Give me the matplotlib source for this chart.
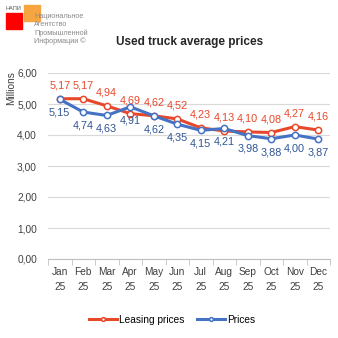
import matplotlib.pyplot as plt
import matplotlib.patches as patches

months = ["Jan\n25", "Feb\n25", "Mar\n25", "Apr\n25", "May\n25", "Jun\n25",
          "Jul\n25", "Aug\n25", "Sep\n25", "Oct\n25", "Nov\n25", "Dec\n25"]
leasing = [5.17, 5.17, 4.94, 4.69, 4.62, 4.52, 4.23, 4.13, 4.10, 4.08, 4.27, 4.16]
prices = [5.15, 4.74, 4.63, 4.91, 4.62, 4.35, 4.15, 4.21, 3.98, 3.88, 4.00, 3.87]
yticks = [0, 1, 2, 3, 4, 5, 6]

RED = "#E8482A"
BLUE = "#4472C4"
RED_TXT = "#E8482A"
BLUE_TXT = "#2F5597"

plt.rcParams['font.family'] = ['Liberation Sans', 'DejaVu Sans']

fig = plt.figure(figsize=(3.38, 3.38), dpi=100)
W = H = 338.0
ax = fig.add_axes([48 / W, (H - 259) / H, 282 / W, 186 / H])

x = list(range(len(months)))
ax.plot(x, leasing, color=RED, lw=2.2, marker='o', ms=4.5, mfc='white',
        mec=RED, mew=1.1, label='Leasing prices', zorder=3)
ax.plot(x, prices, color=BLUE, lw=2.2, marker='o', ms=4.5, mfc='white',
        mec=BLUE, mew=1.1, label='Prices', zorder=4)

for i, v in enumerate(leasing):
    ax.annotate(f"{v:.2f}".replace('.', ','), (i, v), xytext=(0, 6),
                textcoords='offset points', ha='center', va='bottom',
                color=RED_TXT, fontsize=7.8)
for i, v in enumerate(prices):
    ax.annotate(f"{v:.2f}".replace('.', ','), (i, v), xytext=(0, -6),
                textcoords='offset points', ha='center', va='top',
                color=BLUE_TXT, fontsize=7.8)

ax.set_xlim(-0.5, len(months) - 0.5)
ax.set_ylim(0, 6)
ax.set_yticks(yticks)
ax.set_yticklabels([f"{t:.2f}".replace('.', ',') for t in yticks], fontsize=7.3, color='#404040')
ax.set_xticks(x)
ax.set_xticklabels(months, fontsize=7.3, color='#404040', linespacing=1.6)
ax.set_xticks([i - 0.5 for i in range(len(months) + 1)], minor=True)
ax.tick_params(axis='x', which='major', length=0, pad=6)
ax.tick_params(axis='x', which='minor', length=4, color='#bfbfbf')
ax.tick_params(axis='y', length=0, pad=8)
ax.grid(axis='y', color='#d9d9d9', lw=0.8)
ax.set_axisbelow(True)
for s in ['top', 'right', 'left']:
    ax.spines[s].set_visible(False)
ax.spines['bottom'].set_color('#bfbfbf')
fig.text(11 / W, 1 - 88 / H, "Millions", rotation=90, ha='center', va='center',
         fontsize=7.3, color='#404040')

fig.text(190 / W, 1 - 42 / H, "Used truck average prices", ha='center', va='center',
         fontsize=8.5, fontweight='bold', color='#262626')

leg = fig.legend(loc='center', bbox_to_anchor=(172 / W, 1 - 320 / H), ncol=2,
                 frameon=False, fontsize=7.3, handlelength=2.8, columnspacing=1.2,
                 handletextpad=0.2, markerscale=0.6)

# logo
fig.patches.append(patches.Rectangle((6 / W, 1 - 29 / H), 16 / W, 16 / H,
                                     transform=fig.transFigure, color='#FF0000'))
fig.patches.append(patches.Rectangle((24 / W, 1 - 21 / H), 16 / W, 16 / H,
                                     transform=fig.transFigure, color='#F7A541'))
fig.text(6 / W, 1 - 8 / H, "НАПИ", fontsize=4, color='#555555', va='center')
for j, line in enumerate(["Национальное", "Агентство", "Промышленной", "Информации ©"]):
    fig.text(34 / W, 1 - (17 + j * 8) / H, line, fontsize=5.2, color='#8a8a8a', va='center')

fig.savefig("out.png", dpi=100)
